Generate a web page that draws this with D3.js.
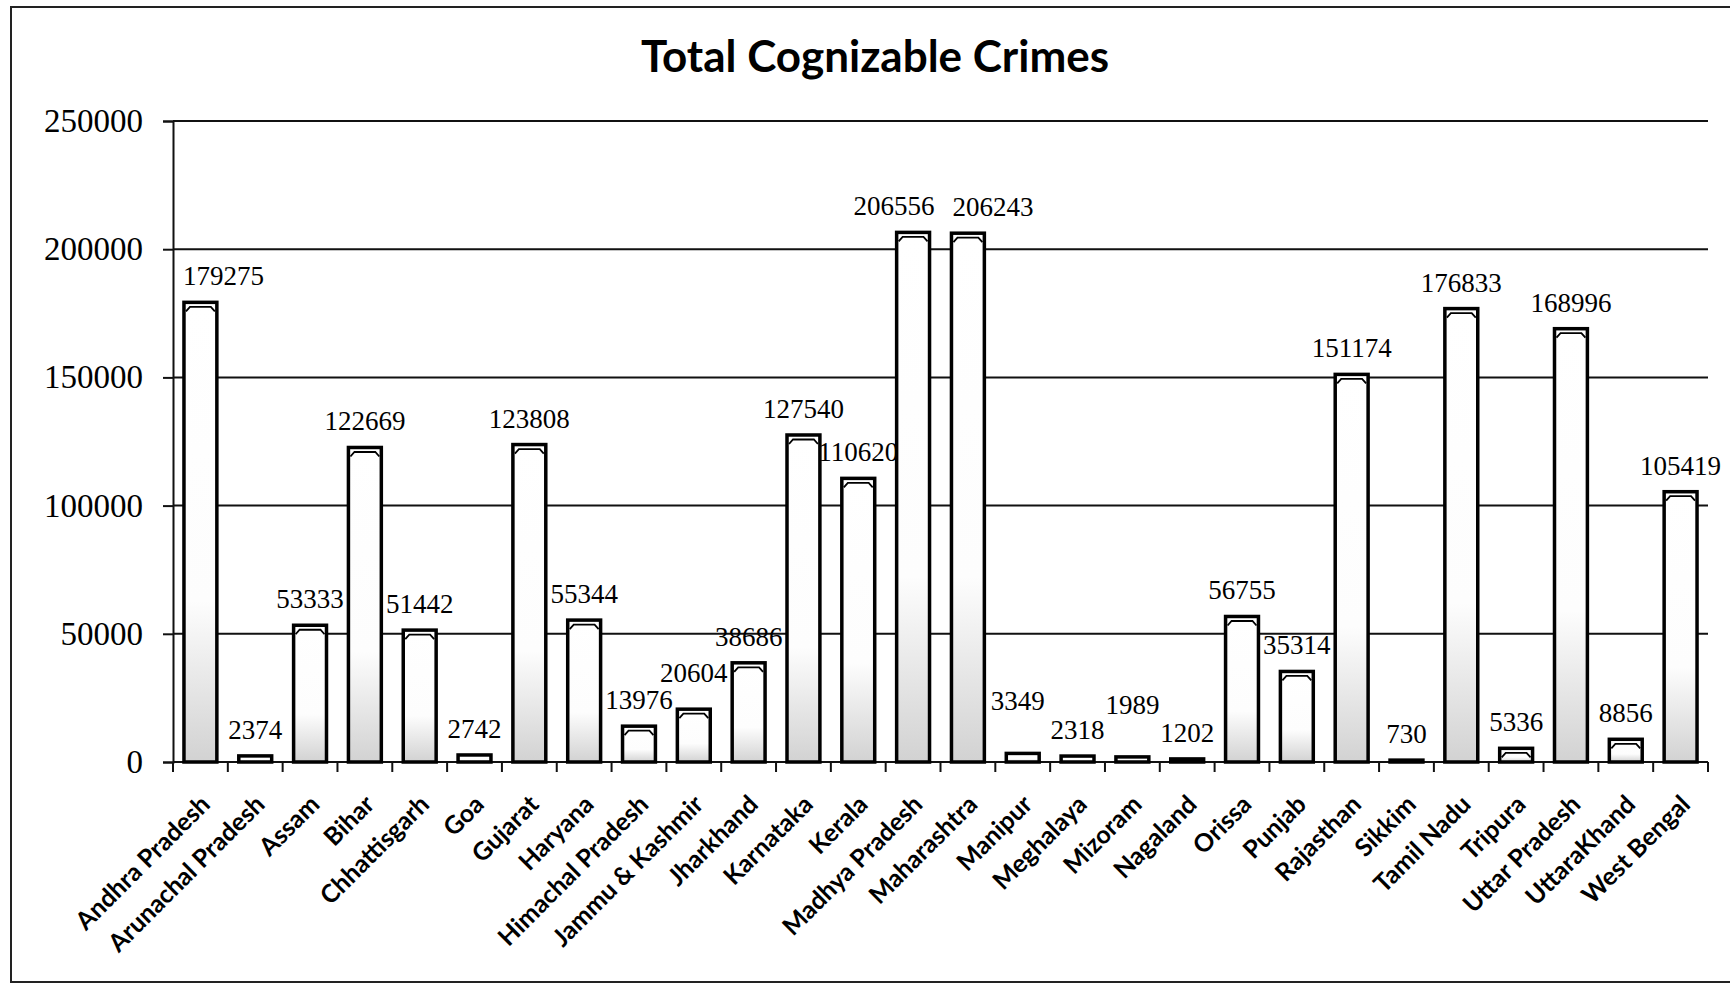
<!DOCTYPE html>
<html>
<head>
<meta charset="utf-8">
<script src="https://cdn.jsdelivr.net/npm/d3@7"></script>
<style>
  html, body { margin: 0; padding: 0; background: #fff; }
  svg { display: block; }
</style>
</head>
<body>
<svg id="chart" width="1730" height="985"></svg>
<script>
// State-wise totals of cognizable crimes
const states = [
  "Andhra Pradesh", "Arunachal Pradesh", "Assam", "Bihar", "Chhattisgarh", "Goa",
  "Gujarat", "Haryana", "Himachal Pradesh", "Jammu & Kashmir", "Jharkhand",
  "Karnataka", "Kerala", "Madhya Pradesh", "Maharashtra", "Manipur", "Meghalaya",
  "Mizoram", "Nagaland", "Orissa", "Punjab", "Rajasthan", "Sikkim", "Tamil Nadu",
  "Tripura", "Uttar Pradesh", "UttaraKhand", "West Bengal"
];
const crimes = [
  179275, 2374, 53333, 122669, 51442, 2742,
  123808, 55344, 13976, 20604, 38686,
  127540, 110620, 206556, 206243, 3349, 2318,
  1989, 1202, 56755, 35314, 151174, 730, 176833,
  5336, 168996, 8856, 105419
];
const yTicks = [0, 50000, 100000, 150000, 200000, 250000];
const chartTitle = "Total Cognizable Crimes";

// Plot geometry
const plotLeft = 173, plotRight = 1708, plotTop = 121, plotBottom = 762;

const svg = d3.select("#chart");

// Outer chart frame
svg.append("rect")
  .attr("x", 11).attr("y", 7)
  .attr("width", 1740).attr("height", 975)
  .attr("fill", "none").attr("stroke", "#222").attr("stroke-width", 2);

// Title
svg.append("text")
  .attr("x", 875).attr("y", 72)
  .attr("text-anchor", "middle")
  .attr("font-family", "Lato, 'Liberation Sans', sans-serif")
  .attr("font-weight", "bold")
  .attr("font-size", 44)
  .attr("fill", "#000")
  .text(chartTitle);

const x = d3.scaleBand().domain(states).range([plotLeft, plotRight]).paddingInner(0.4).paddingOuter(0.2);
const y = d3.scaleLinear().domain([0, 250000]).range([plotBottom, plotTop]);

// Shading towards the base of each column
const defs = svg.append("defs");
const grad = defs.append("linearGradient").attr("id", "colShade")
  .attr("x1", 0).attr("y1", 0).attr("x2", 0).attr("y2", 1);
grad.append("stop").attr("offset", "0%").attr("stop-color", "#ffffff");
grad.append("stop").attr("offset", "65%").attr("stop-color", "#fdfdfd");
grad.append("stop").attr("offset", "100%").attr("stop-color", "#d2d2d2");

// Horizontal gridlines
svg.append("g")
  .selectAll("line")
  .data(yTicks.filter(d => d > 0))
  .join("line")
  .attr("x1", plotLeft).attr("x2", plotRight)
  .attr("y1", d => y(d)).attr("y2", d => y(d))
  .attr("stroke", "#111").attr("stroke-width", 2);

// Y axis
const yAxis = svg.append("g")
  .attr("transform", `translate(${plotLeft},0)`)
  .call(d3.axisLeft(y).tickValues(yTicks).tickSize(10).tickPadding(20).tickFormat(d3.format("d")));
yAxis.select(".domain").attr("stroke", "#111").attr("stroke-width", 2);
yAxis.selectAll(".tick line").attr("stroke", "#111").attr("stroke-width", 2);
yAxis.selectAll(".tick text")
  .attr("font-family", "'Liberation Serif', 'Times New Roman', serif")
  .attr("font-size", 33)
  .attr("fill", "#000");

// X axis with ticks at category boundaries
const boundaries = d3.range(states.length + 1).map(i => plotLeft + i * (plotRight - plotLeft) / states.length);
svg.append("line")
  .attr("x1", plotLeft).attr("x2", plotRight)
  .attr("y1", plotBottom).attr("y2", plotBottom)
  .attr("stroke", "#111").attr("stroke-width", 2);
svg.append("g")
  .selectAll("line")
  .data(boundaries)
  .join("line")
  .attr("x1", d => d).attr("x2", d => d)
  .attr("y1", plotBottom).attr("y2", plotBottom + 10)
  .attr("stroke", "#111").attr("stroke-width", 2);

// Columns
const bars = svg.append("g").selectAll("g")
  .data(states.map((s, i) => ({ state: s, value: crimes[i] })))
  .join("g");

bars.append("rect")
  .attr("x", d => x(d.state))
  .attr("y", d => y(d.value))
  .attr("width", x.bandwidth())
  .attr("height", d => plotBottom - y(d.value))
  .attr("fill", "url(#colShade)")
  .attr("stroke", "#000")
  .attr("stroke-width", 3.5);

// Rim of each column top
bars.filter(d => plotBottom - y(d.value) > 9)
  .append("path")
  .attr("d", d => {
    const x0 = x(d.state), w = x.bandwidth(), t = y(d.value);
    return `M${x0 + 2},${t + 9} L${x0 + 6},${t + 4.5} L${x0 + w - 6},${t + 4.5} L${x0 + w - 2},${t + 9}`;
  })
  .attr("fill", "none")
  .attr("stroke", "#000")
  .attr("stroke-width", 1.8);

// Value labels, moved aside where they would collide
const labelShift = {
  "Andhra Pradesh": [23, 0],
  "Jammu & Kashmir": [0, -10],
  "Madhya Pradesh": [-19, 0],
  "Maharashtra": [25, 0],
  "Manipur": [-5, -26],
  "Mizoram": [0, -26]
};
bars.append("text")
  .attr("x", d => x(d.state) + x.bandwidth() / 2 + (labelShift[d.state] || [0, 0])[0])
  .attr("y", d => y(d.value) - 17 + (labelShift[d.state] || [0, 0])[1])
  .attr("text-anchor", "middle")
  .attr("font-family", "'Liberation Serif', 'Times New Roman', serif")
  .attr("font-size", 27)
  .attr("fill", "#000")
  .text(d => d.value);

// Category labels, slanted
svg.append("g").selectAll("text")
  .data(states)
  .join("text")
  .attr("transform", d => `translate(${x(d) + x.bandwidth() / 2 + 11},${plotBottom + 44}) rotate(-45)`)
  .attr("text-anchor", "end")
  .attr("font-family", "Lato, 'Liberation Sans', sans-serif")
  .attr("font-weight", "bold")
  .attr("font-size", 25)
  .attr("fill", "#000")
  .text(d => d);
</script>
</body>
</html>
